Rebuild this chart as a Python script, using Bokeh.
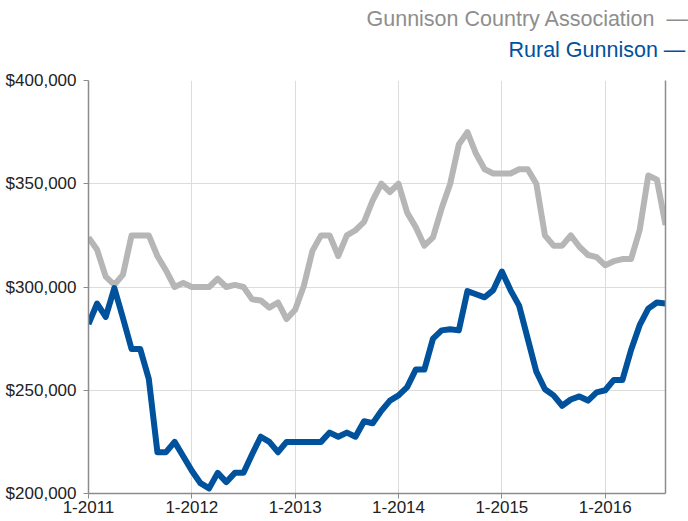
from bokeh.plotting import figure
from bokeh.models import (FixedTicker, NumeralTickFormatter, LinearAxis, Title,
                          Range1d, ColumnDataSource)
from bokeh.embed import file_html
from bokeh.resources import INLINE

# ---- data (Jan 2011 .. Aug 2016, monthly) ----
month_index = list(range(68))
gunnison_country = [324, 318, 305, 301, 306, 325, 325, 325, 315, 308, 300, 302,
                    300, 300, 300, 304, 300, 301, 300, 294, 293.5, 290, 292.5, 284.5,
                    289, 300.5, 317.5, 325, 325, 315, 325, 327.5, 331.5, 342, 350, 346,
                    350, 336, 329, 320, 324, 338, 350, 369, 375, 364.5, 357, 355,
                    355, 355, 357, 357, 350, 325, 320, 320, 325, 319.5, 315.5, 314.5,
                    310.5, 312.5, 313.5, 313.5, 327.5, 354, 352, 330]
rural_gunnison = [282, 292, 285.5, 299.5, 285, 270, 270, 255.5, 220, 220, 225, 218,
                  211, 205, 202.5, 210, 205.5, 210, 210, 219, 227.5, 225, 220, 225,
                  225, 225, 225, 225, 229.5, 227.5, 229.5, 227.5, 235, 234, 240, 245,
                  247.5, 251.5, 260, 260, 275, 279, 279.5, 279, 298, 296.5, 295, 298.5,
                  307.5, 298.5, 291, 275, 259, 250.5, 247.5, 242.5, 245.5, 247, 245, 249,
                  250, 255, 255, 269.5, 281.5, 289.5, 292.5, 292]
gunnison_country = [v * 1000 for v in gunnison_country]
rural_gunnison = [v * 1000 for v in rural_gunnison]

x_tick_positions = [0, 12, 24, 36, 48, 60]
x_tick_labels = ["1-2011", "1-2012", "1-2013", "1-2014", "1-2015", "1-2016"]
y_ticks = [200000, 250000, 300000, 350000, 400000]
series_names = ["Gunnison Country Association", "Rural Gunnison"]

GRAY = "#b5b6b5"
BLUE = "#00529c"
FONT = "Liberation Sans"

src = ColumnDataSource(dict(x=month_index, gca=gunnison_country, rural=rural_gunnison))

p = figure(width=688, height=521, output_backend="svg", toolbar_location=None,
           x_range=Range1d(0, 67), y_range=Range1d(200000, 400000),
           min_border_left=88, min_border_right=23, min_border_top=80,
           min_border_bottom=28)
p.outline_line_color = None
p.background_fill_color = "white"
p.border_fill_color = "white"

p.line("x", "gca", source=src, line_color=GRAY, line_width=6, line_join="round")
p.line("x", "rural", source=src, line_color=BLUE, line_width=6, line_join="round")

# axes
p.xaxis.ticker = FixedTicker(ticks=x_tick_positions)
p.xaxis.major_label_overrides = {t: l for t, l in zip(x_tick_positions, x_tick_labels)}
p.yaxis.ticker = FixedTicker(ticks=y_ticks)
p.yaxis.formatter = NumeralTickFormatter(format="$0,0")
for ax in (p.xaxis, p.yaxis):
    ax.axis_line_color = "#8c8c8c"
    ax.axis_line_width = 1.5
    ax.major_tick_line_color = "#8c8c8c"
    ax.major_tick_in = 0
    ax.major_tick_out = 5
    ax.minor_tick_line_color = None
    ax.major_label_text_font = FONT
    ax.major_label_text_font_size = "17px"
    ax.major_label_text_color = "#222222"
p.xaxis.major_label_standoff = 2
p.yaxis.major_label_standoff = 7

right_axis = LinearAxis(ticker=FixedTicker(ticks=[]), major_label_text_font_size="0px",
                        axis_line_color="#8c8c8c", axis_line_width=1.5,
                        major_tick_line_color=None, minor_tick_line_color=None)
p.add_layout(right_axis, "right")

p.xgrid.ticker = FixedTicker(ticks=x_tick_positions)
p.ygrid.ticker = FixedTicker(ticks=y_ticks)
p.xgrid.grid_line_color = "#dcdcdc"
p.ygrid.grid_line_color = "#dcdcdc"

# legend-like lines of text (name + dash) stacked above the frame
p.add_layout(Title(text=series_names[1] + "\u00a0\u2014", align="left", offset=420,
                   standoff=37, text_color=BLUE, text_font=FONT,
                   text_font_size="21.5px", text_font_style="normal"), "above")
p.add_layout(Title(text=series_names[0] + "\u00a0\u00a0\u2014", align="left", offset=278,
                   standoff=-26, text_color="#8e8e8e", text_font=FONT,
                   text_font_size="21.5px", text_font_style="normal"), "above")

open("out.html", "w").write(file_html(p, INLINE))
